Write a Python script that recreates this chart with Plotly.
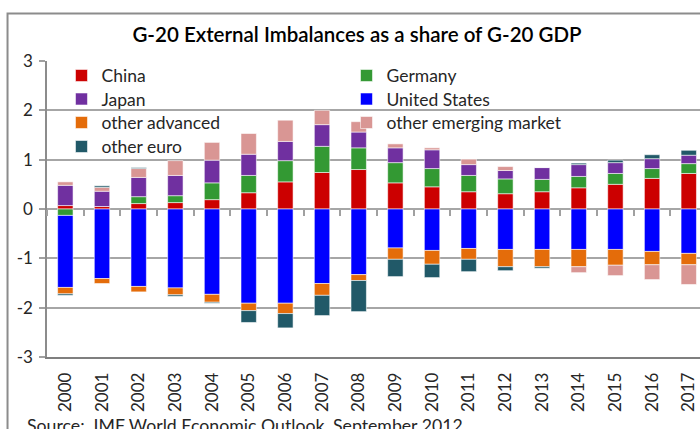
import plotly.graph_objects as go

years = [str(y) for y in range(2000, 2018)]
y_tick_vals = [-3, -2, -1, 0, 1, 2, 3]
y_tick_text = ["-3", "-2", "-1", "0", "1", "2", "3"]

china = [0.07, 0.05, 0.11, 0.13, 0.19, 0.33, 0.55, 0.74, 0.80, 0.53, 0.45, 0.35, 0.31, 0.35, 0.43, 0.50, 0.62, 0.72]
germany = [-0.13, 0.0, 0.14, 0.14, 0.34, 0.35, 0.43, 0.53, 0.44, 0.41, 0.37, 0.33, 0.30, 0.25, 0.23, 0.22, 0.20, 0.20]
japan = [0.41, 0.31, 0.39, 0.41, 0.46, 0.43, 0.39, 0.44, 0.32, 0.30, 0.38, 0.22, 0.17, 0.24, 0.24, 0.22, 0.20, 0.17]
united_states = [-1.46, -1.41, -1.57, -1.60, -1.73, -1.91, -1.91, -1.51, -1.33, -0.79, -0.84, -0.80, -0.82, -0.82, -0.82, -0.82, -0.86, -0.90]
other_advanced = [-0.13, -0.10, -0.11, -0.14, -0.16, -0.15, -0.21, -0.24, -0.12, -0.23, -0.28, -0.22, -0.35, -0.35, -0.35, -0.32, -0.27, -0.23]
other_emerging = [0.07, 0.08, 0.18, 0.30, 0.36, 0.42, 0.43, 0.29, 0.21, 0.08, 0.04, 0.11, 0.08, 0.0, -0.12, -0.21, -0.30, -0.40]
other_euro = [-0.03, 0.03, 0.02, -0.03, -0.02, -0.24, -0.29, -0.41, -0.63, -0.35, -0.27, -0.25, -0.08, -0.03, 0.03, 0.05, 0.08, 0.10]

# legend rows (two columns, read row by row)
series = [
    ("China", china, "#CC0000", "legend"),
    ("Germany", germany, "#339933", "legend"),
    ("Japan", japan, "#7030A0", "legend2"),
    ("United States", united_states, "#0000FF", "legend2"),
    ("other advanced", other_advanced, "#E46C0A", "legend3"),
    ("other emerging market", other_emerging, "#D99694", "legend3"),
    ("other euro", other_euro, "#215968", "legend4"),
]

FONT = "Lato"
LFS = 17.5
W, H = 700, 429
ML, MT, MB = 46.5, 61.4, 429 - 357.3
PW = W - ML
PH = H - MT - MB

fig = go.Figure()
for name, vals, color, lg in series:
    fig.add_trace(go.Bar(
        x=years, y=vals, name=name, legend=lg,
        marker=dict(color=color, line=dict(color="rgba(255,255,255,0.55)", width=1)),
        width=0.42,
    ))

# helper trace for the tick marks along the zero line
fig.add_trace(go.Scatter(x=years, y=[0] * len(years), xaxis="x2", yaxis="y",
                         mode="none", showlegend=False, hoverinfo="skip"))

cat_px = 36.7
xmax = PW / cat_px - 0.5

def px_x(p):
    return (p - ML) / PW

def px_y(p):
    return (H - MB - p) / PH

def row_legend(yc):
    return dict(x=px_x(61), y=px_y(yc), xanchor="left", yanchor="middle",
                orientation="h", entrywidth=240, entrywidthmode="pixels",
                bgcolor="rgba(0,0,0,0)", traceorder="normal", borderwidth=0,
                font=dict(family=FONT, size=LFS, color="#262626"), itemwidth=30)

fig.update_layout(
    template="none",
    width=W, height=H,
    margin=dict(l=ML, r=0, t=MT, b=MB, pad=0, autoexpand=False),
    paper_bgcolor="white", plot_bgcolor="white",
    barmode="relative",
    font=dict(family=FONT, color="#262626"),
    title=dict(text="G-20 External Imbalances as a share of G-20 GDP",
               x=357 / W, xanchor="center", xref="container",
               y=1 - 35 / H, yanchor="middle", yref="container",
               font=dict(family=FONT, size=20.5, color="#000000", weight=600)),
    xaxis=dict(type="category", range=[-0.5, xmax], showgrid=False, automargin=False,
               showline=True, linecolor="#7F7F7F", linewidth=1.5,
               ticks="", tickangle=-90, ticklabelstandoff=7,
               tickfont=dict(family=FONT, size=17, color="#262626"), zeroline=False),
    xaxis2=dict(type="category", overlaying="x", anchor="free", position=0.5,
                matches="x", range=[-0.5, xmax], showgrid=False, showline=False,
                automargin=False,
                showticklabels=False, ticks="outside", tickson="boundaries",
                ticklen=6, tickwidth=1.5, tickcolor="#A0A0A0"),
    yaxis=dict(range=[-3, 3], tickmode="array", tickvals=y_tick_vals, ticktext=y_tick_text,
               showgrid=True, gridcolor="#A6A6A6", gridwidth=1.5,
               zeroline=False, showline=True, linecolor="#8C8C8C", linewidth=1.5,
               automargin=False,
               ticks="outside", ticklen=6, tickcolor="#A0A0A0", tickwidth=1.5,
               ticklabelstandoff=3,
               tickfont=dict(family=FONT, size=17, color="#262626")),
    legend=row_legend(76),
    legend2=row_legend(99.5),
    legend3=row_legend(123),
    legend4=row_legend(147),
    shapes=[dict(type="rect", xref="paper", yref="paper",
                 x0=px_x(7), x1=px_x(720), y0=px_y(14), y1=px_y(445),
                 line=dict(color="#8C8C8C", width=2), fillcolor="rgba(0,0,0,0)",
                 layer="below")],
    annotations=[dict(text="Source:  IMF World Economic Outlook, September 2012",
                      xref="paper", yref="paper", x=px_x(24), y=px_y(413),
                      xanchor="left", yanchor="top", showarrow=False,
                      font=dict(family=FONT, size=17.7, color="#262626"))],
)

fig.write_html("out.html", config={"displayModeBar": False},
               post_script="document.body.style.margin='0';document.body.style.overflow='hidden';")
